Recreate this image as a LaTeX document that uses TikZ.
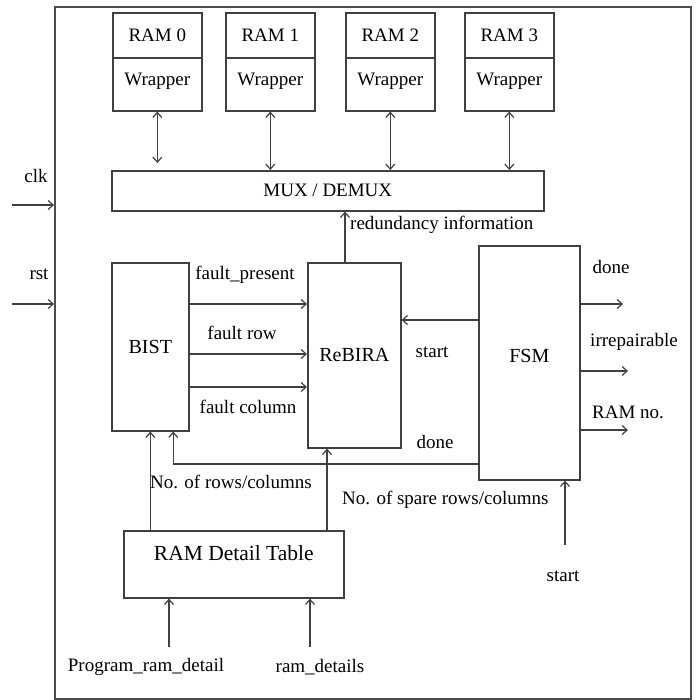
\documentclass[tikz,border=0pt]{standalone}
\usepackage{fontspec}
\setmainfont{Liberation Serif}
\usetikzlibrary{arrows.meta}
\begin{document}
\begin{tikzpicture}[x=1pt,y=-1pt,
  box/.style={draw=black!75, line width=1.6pt, inner sep=0pt, anchor=north west,
              font=\fontsize{19}{19}\selectfont},
  lbl/.style={inner sep=0pt, font=\fontsize{19}{19}\selectfont},
  wire/.style={draw=black!75, line width=1.2pt},
  tip/.tip={Straight Barb[length=5pt,width=9pt]},
  arr/.style={wire, -tip},
  darr/.style={wire, tip-tip}]
\useasboundingbox (0,0) rectangle (699,700);

% chip boundary
\node[box, draw=black!70, minimum width=636pt, minimum height=692pt] (frame) at (54,6) {};

% memories with their wrappers
\foreach \i/\x in {0/112, 1/225, 2/345, 3/464}{
  \node[box, minimum width=89pt, minimum height=45pt] (ram\i) at (\x,12) {RAM \i};
  \node[box, minimum width=89pt, minimum height=53pt, text depth=10pt] (wrap\i) at (\x,57) {Wrapper};
}

% main blocks
\node[box, minimum width=432pt, minimum height=40pt] (mux) at (111,170) {MUX / DEMUX};
\node[box, minimum width=77pt, minimum height=168pt, font=\fontsize{20}{20}\selectfont] (bist) at (111,262) {BIST};
\node[box, minimum width=93pt, minimum height=185pt, font=\fontsize{20}{20}\selectfont] (rebira) at (307,262) {ReBIRA};
\node[box, minimum width=101pt, minimum height=234pt, text depth=14pt, font=\fontsize{20}{20}\selectfont] (fsm) at (478,245) {FSM};
\node[box, minimum width=220pt, minimum height=67pt, text depth=22pt, font=\fontsize{21.5}{21.5}\selectfont] (rdt) at (123,530) {RAM Detail Table};

% wrapper <-> mux/demux links
\draw[darr, shorten >=7pt] (wrap0.south) -- (wrap0.south |- mux.north);
\foreach \i in {1,2,3}{
  \draw[darr] (wrap\i.south) -- (wrap\i.south |- mux.north);
}

% reference rows and columns for the connectors
\coordinate (yfp) at (0,304);
\coordinate (yfr) at (0,354);
\coordinate (yfc) at (0,387);
\coordinate (ystart) at (0,320);
\coordinate (ydone) at (0,464);
\coordinate (xred) at (345,0);
\coordinate (xsp) at (327,0);

% clock and reset inputs
\coordinate (clkin) at (12,205);
\coordinate (rstin) at (12,304);
\draw[arr] (clkin) -- (clkin -| frame.west);
\draw[arr] (rstin) -- (rstin -| frame.west);
\node[lbl] (clklbl) at (36,176) {clk};
\node[lbl] (rstlbl) at (39,274) {rst};

% BIST -> ReBIRA
\draw[arr] (bist.east |- yfp) -- (rebira.west |- yfp);
\draw[arr] (bist.east |- yfr) -- (rebira.west |- yfr);
\draw[arr] (bist.east |- yfc) -- (rebira.west |- yfc);
\node[lbl] (fplbl) at (245,275) {fault\_present};
\node[lbl] (frlbl) at (242,333) {fault row};
\node[lbl] (fclbl) at (248,407) {fault column};

% ReBIRA -> MUX/DEMUX
\draw[arr] (xred |- rebira.north) -- (xred |- mux.south);
\node[lbl, anchor=west] (redlbl) at (350,225) {redundancy information};

% FSM <-> ReBIRA / BIST
\draw[arr] (fsm.west |- ystart) -- (rebira.east |- ystart);
\node[lbl] (startlbl) at (432,352) {start};
\draw[arr] (fsm.west |- ydone) -| ([xshift=23pt]bist.south);
\node[lbl] (donelbl) at (435,442) {done};

% FSM outputs
\coordinate (odone) at (623,304);
\coordinate (oirr) at (628,371);
\coordinate (oram) at (628,430);
\draw[arr] (fsm.east |- odone) -- (odone);
\draw[arr] (fsm.east |- oirr) -- (oirr);
\draw[arr] (fsm.east |- oram) -- (oram);
\node[lbl] (odonelbl) at (611,267) {done};
\node[lbl] (oirrlbl) at (634,342) {irrepairable};
\node[lbl] (oramlbl) at (628,412) {RAM no.};

% FSM start input
\coordinate (fstart) at (565,545);
\draw[arr] (fstart) -- (fstart |- fsm.south);
\node[lbl] (fstartlbl) at (563,576) {start};

% RAM detail table -> BIST / ReBIRA
\draw[arr] (bist.south |- rdt.north) -- (bist.south);
\draw[arr] (xsp |- rdt.north) -- (xsp |- rebira.south);
\node[lbl, anchor=west] (nrclbl) at (150,482) {No. of rows/columns};
\node[lbl, anchor=west] (nsplbl) at (342,500) {No. of spare rows/columns};

% RAM detail table inputs
\coordinate (pin) at (169,647);
\coordinate (din) at (310,647);
\draw[arr] (pin) -- (pin |- rdt.south);
\draw[arr] (din) -- (din |- rdt.south);
\node[lbl] (pinlbl) at (146,667) {Program\_ram\_detail};
\node[lbl] (dinlbl) at (320,667) {ram\_details};
\end{tikzpicture}
\end{document}
